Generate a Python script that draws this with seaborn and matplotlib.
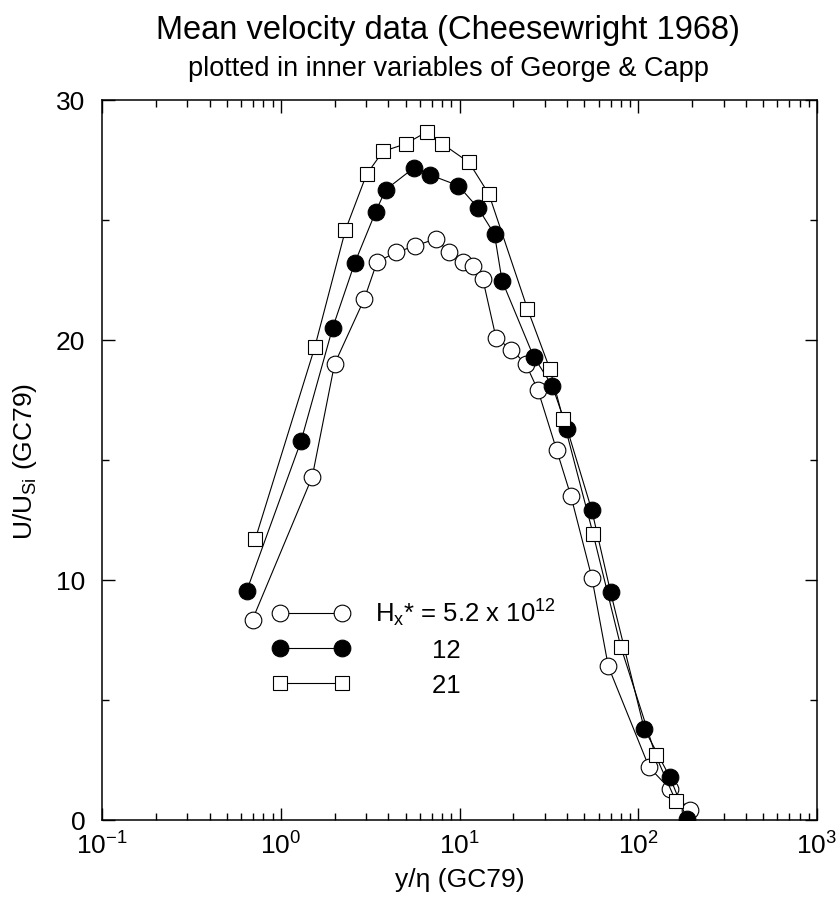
import numpy as np
import pandas as pd
import matplotlib
matplotlib.use("Agg")
import matplotlib.pyplot as plt
from matplotlib.ticker import LogLocator, MultipleLocator, NullFormatter
import seaborn as sns

# ---- data ----
open_x = [0.695, 1.5, 2.0, 2.93, 3.46, 4.42, 5.67, 7.36, 8.71, 10.4, 11.9, 13.5,
          16.0, 19.5, 23.5, 27.5, 35.0, 42.0, 55.0, 68.0, 115.0, 150.0, 195.0]
open_u = [8.35, 14.3, 19.0, 21.7, 23.26, 23.65, 23.93, 24.21, 23.68, 23.27, 23.10, 22.54,
          20.1, 19.6, 19.0, 17.9, 15.4, 13.5, 10.1, 6.4, 2.2, 1.3, 0.4]

fill_x = [0.645, 1.3, 1.95, 2.59, 3.4, 3.86, 5.55, 6.84, 9.86, 12.7, 15.7, 17.3,
          26.0, 33.0, 40.0, 55.0, 70.0, 108.0, 150.0, 187.0]
fill_u = [9.55, 15.8, 20.5, 23.2, 25.35, 26.26, 27.17, 26.88, 26.43, 25.5, 24.4, 22.47,
          19.3, 18.1, 16.3, 12.9, 9.5, 3.8, 1.8, 0.05]

sq_x = [0.72, 1.55, 2.30, 3.02, 3.73, 4.99, 6.59, 8.03, 11.3, 14.6, 24.0,
        32.0, 38.0, 56.0, 80.0, 125.0, 162.0]
sq_u = [11.7, 19.7, 24.58, 26.9, 27.86, 28.17, 28.68, 28.17, 27.4, 26.08, 21.3,
        18.8, 16.7, 11.9, 7.2, 2.7, 0.8]

labels = [r"H$_x$* = 5.2 x 10$^{12}$", "        12", "        21"]

df = pd.concat([
    pd.DataFrame({"x": open_x, "u": open_u, "s": labels[0]}),
    pd.DataFrame({"x": fill_x, "u": fill_u, "s": labels[1]}),
    pd.DataFrame({"x": sq_x, "u": sq_u, "s": labels[2]}),
], ignore_index=True)

sns.set_theme(style="ticks")
plt.rcParams["font.family"] = ["Liberation Sans", "DejaVu Sans"]
plt.rcParams["mathtext.fontset"] = "custom"
plt.rcParams["mathtext.rm"] = "Liberation Sans"
plt.rcParams["mathtext.it"] = "Liberation Sans:italic"
plt.rcParams["mathtext.bf"] = "Liberation Sans:bold"
plt.rcParams["mathtext.default"] = "regular"
plt.rcParams["axes.unicode_minus"] = False
plt.rcParams["text.color"] = "black"
plt.rcParams["axes.labelcolor"] = "black"

fig = plt.figure(figsize=(8.4, 9.03), dpi=100)
ax = fig.add_axes([102/840, 1-821/903, 715/840, 720/903])

styles = [
    dict(marker="o", markerfacecolor="white", markersize=12),
    dict(marker="o", markerfacecolor="black", markersize=12),
    dict(marker="s", markerfacecolor="white", markersize=10.5),
]
for lab, st in zip(labels, styles):
    sub = df[df["s"] == lab]
    sns.lineplot(data=sub, x="x", y="u", ax=ax, sort=False, estimator=None,
                 color="black", lw=0.8, markeredgecolor="black",
                 markeredgewidth=0.8, label=lab, **st)

ax.set_xscale("log")
ax.set_xlim(0.1, 1000)
ax.set_ylim(0, 30)
ax.yaxis.set_major_locator(MultipleLocator(10))
ax.yaxis.set_minor_locator(MultipleLocator(5))
ax.xaxis.set_major_locator(LogLocator(base=10, numticks=10))
ax.xaxis.set_minor_locator(LogLocator(base=10, subs=np.arange(2, 10), numticks=20))
ax.xaxis.set_minor_formatter(NullFormatter())
ax.tick_params(which="both", direction="in", top=True, right=True, colors="black",
               labelsize=19, width=1)
ax.tick_params(which="major", length=9)
ax.tick_params(which="minor", length=5)
ax.tick_params(axis="x", which="major", pad=8)
ax.tick_params(axis="y", which="major", pad=12)
for sp in ax.spines.values():
    sp.set_linewidth(1.1)
    sp.set_color("black")

ax.set_xlabel("y/η (GC79)", fontsize=19, labelpad=6)
ax.set_ylabel(r"U/U$_{Si}$ (GC79)", fontsize=19, labelpad=12)

leg = ax.legend(loc="upper left", bbox_to_anchor=(0.238, 0.31), frameon=False,
                fontsize=18.5, numpoints=2, handlelength=3.0, handletextpad=1.0,
                labelspacing=0.4, borderaxespad=0, borderpad=0)

fig.text(448/840, 1-30/903, "Mean velocity data (Cheesewright 1968)", ha="center",
         va="center", fontsize=23.5)
fig.text(448/840, 1-69/903, "plotted in inner variables of George & Capp", ha="center",
         va="center", fontsize=19.5)

fig.savefig("out.png", dpi=100)
